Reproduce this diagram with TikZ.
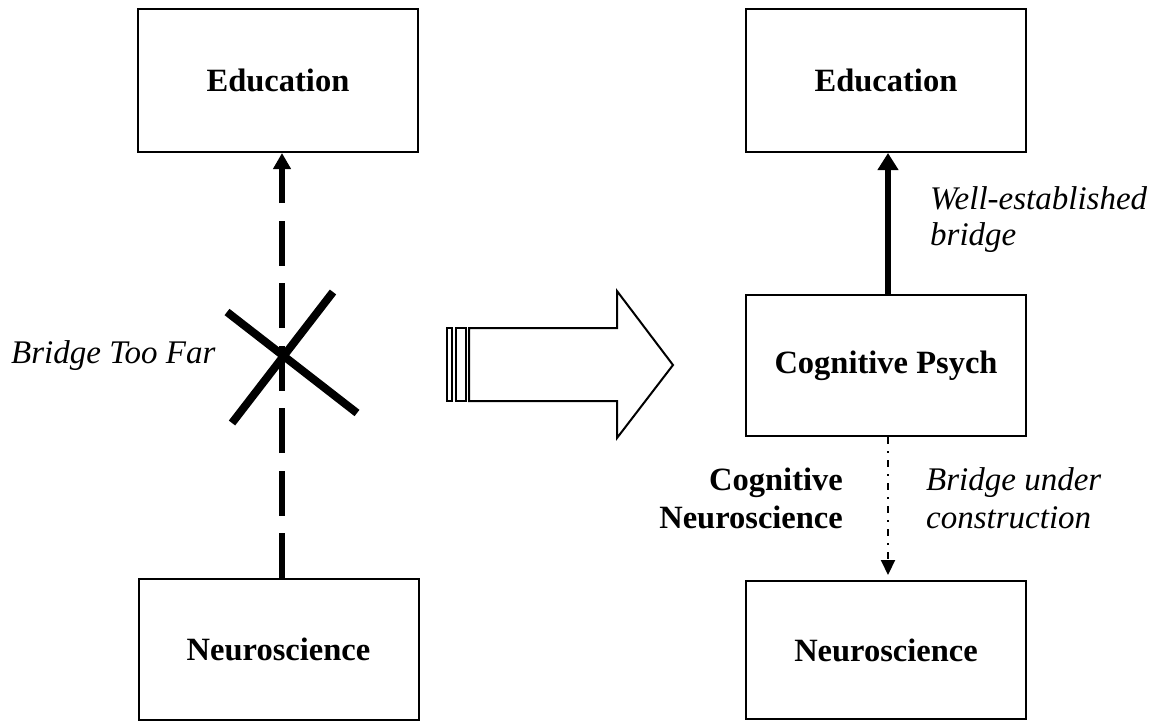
\documentclass[tikz,border=0pt]{standalone}
\usepackage{fontspec}
\setmainfont{Liberation Serif}
\usetikzlibrary{arrows.meta}
\begin{document}
\begin{tikzpicture}[x=1pt,y=-1pt,
  box/.style={draw,line width=2pt,minimum width=280pt,inner sep=0pt,font=\fontsize{32.5}{38}\selectfont\bfseries},
  lab/.style={font=\fontsize{33}{36}\selectfont\itshape,inner sep=0pt,align=left},
  blab/.style={font=\fontsize{32.5}{38}\selectfont\bfseries,inner sep=0pt,align=right},
  strike/.style={line width=8pt},
  blockarrow/.style={draw,line width=2pt,fill=white}]
\useasboundingbox (0,0) rectangle (1156,721);
% left column
\node[box,minimum height=143pt] (eduL) at (278,80.5) {Education};
\node[box,minimum height=141pt] (neuL) at (278.5,649.5) {Neuroscience};
\draw[line width=6pt,dash pattern=on 45pt off 17.5pt,-{Triangle[length=16pt,width=17pt]}]
  ([xshift=3.5pt]neuL.north) -- ([xshift=4pt]eduL.south);
\coordinate (xc) at (282,356);
\draw[strike] (227,312) -- (357,413);
\draw[strike] (333,292) -- (232,423);
\node[lab,anchor=base west] (btf) at (11,363) {Bridge Too Far};
% block arrow
\draw[blockarrow] (469,328) -- (617,328) -- (617,291) -- (673,365) -- (617,438) -- (617,401) -- (469,401) -- cycle;
\draw[blockarrow] (447,328) rectangle (452,401);
\draw[blockarrow] (456,328) rectangle (466,401);
% right column
\node[box,minimum height=143pt] (eduR) at (886,80.5) {Education};
\node[box,minimum height=141pt] (cog) at (886,365.5) {Cognitive Psych};
\node[box,minimum height=138pt] (neuR) at (886,650) {Neuroscience};
\draw[line width=6pt,-{Triangle[length=17pt,width=20pt]}]
  ([xshift=2pt]cog.north) -- ([xshift=2pt]eduR.south);
\draw[line width=2pt,dash pattern=on 7pt off 7pt on 2pt off 7pt,shorten >=5pt,-{Triangle[length=15pt,width=14pt]}]
  ([xshift=2pt]cog.south) -- ([xshift=2pt]neuR.north);
\node[lab,anchor=base west] (web) at (930,245) {Well-established\\bridge};
\node[lab,anchor=base west,font=\fontsize{33}{38}\selectfont\itshape] (buc) at (926,528) {Bridge under\\construction};
\node[blab,anchor=base east] (cn) at (843,528) {Cognitive\\Neuroscience};
\end{tikzpicture}
\end{document}
